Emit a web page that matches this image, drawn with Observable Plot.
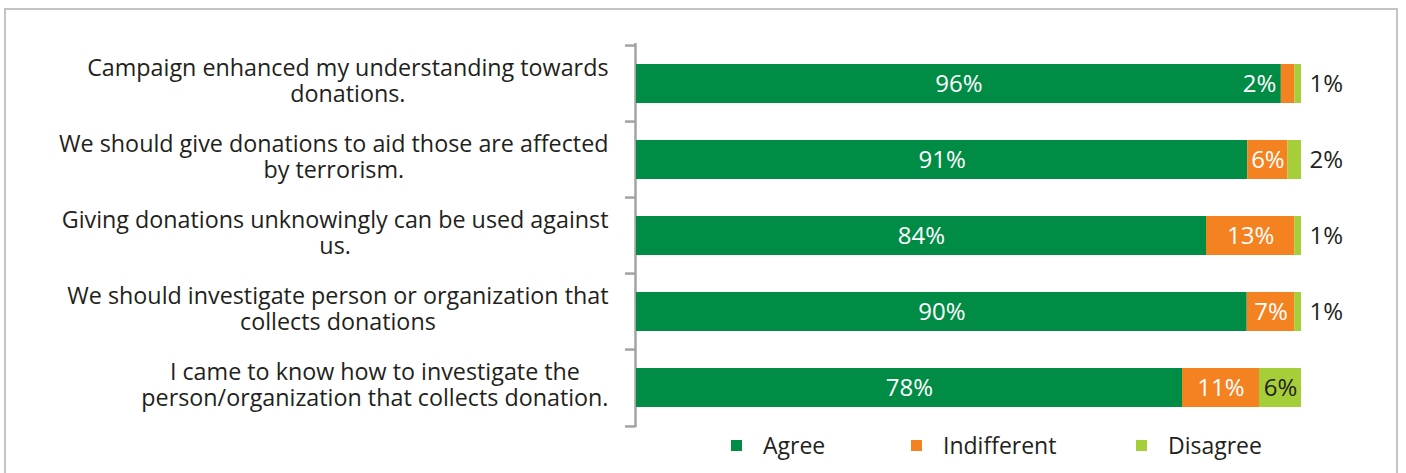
<!DOCTYPE html>
<html>
<head>
<meta charset="utf-8">
<script src="https://cdn.jsdelivr.net/npm/d3@7"></script>
<script src="https://cdn.jsdelivr.net/npm/@observablehq/plot@0.6"></script>
<style>
  body { margin: 0; background: #fff; font-family: "Open Sans", sans-serif; }
  #wrap { position: relative; width: 1406px; height: 473px; overflow: hidden; }
  #frame { position: absolute; left: 4px; top: 8px; width: 1394px; height: 490px;
           border: 2px solid #c3c3c3; box-sizing: border-box; pointer-events: none; }
  #chart { position: absolute; left: 0; top: 0; }
  #legend { position: absolute; left: 0; top: 431px; width: 1406px; height: 28px;
            font-size: 23px; color: #231f20; }
  .item { position: absolute; top: 0; height: 28px; display: flex; align-items: center; gap: 21px; }
  .swatch { width: 11px; height: 11px; }
</style>
</head>
<body>
<div id="wrap">
  <div id="chart"></div>
  <div id="legend"></div>
  <div id="frame"></div>
</div>
<script>
// Survey statements (line breaks as they are wrapped on the axis)
const statements = [
  "Campaign enhanced my understanding towards\ndonations.",
  "We should give donations to aid those are affected\nby terrorism.",
  "Giving donations unknowingly can be used against\nus.",
  "We should investigate person or organization that\ncollects donations",
  "I came to know how to investigate the\nperson/organization that collects donation."
];
const responses = ["Agree", "Indifferent", "Disagree"];
const agree = [96, 91, 84, 90, 78];
const indifferent = [2, 6, 13, 7, 11];
const disagree = [1, 2, 1, 1, 6];
const colors = ["#008c45", "#f58220", "#a6ce39"];

const series = [agree, indifferent, disagree];
const rows = statements.flatMap((s, i) =>
  responses.map((r, j) => ({statement: s, response: r, value: series[j][i]}))
);

// Layout
const W = 1406, H = 430, mL = 636, mR = 105, mT = 43, mB = 2.7;
const plotW = W - mL - mR;
const step = (H - mT - mB) / statements.length;
const ink = "#231f20";
const axisGray = "#a3a3a3";
const legendLeft = [731, 911, 1136];

// Label placement from the normalized stack: narrow segments get their label beside them
const labels = [];
statements.forEach((s, i) => {
  const total = series.reduce((t, v) => t + v[i], 0);
  let cum = 0;
  responses.forEach((r, j) => {
    const v = series[j][i];
    const x1 = cum / total, x2 = (cum + v) / total;
    cum += v;
    const narrow = (x2 - x1) * plotW < 30;
    let place;
    if (!narrow) place = r === "Disagree" ? "midDark" : "midLight";
    else place = r === "Disagree" ? "after" : "before";
    labels.push({statement: s, value: v, x1, x2, xm: (x1 + x2) / 2, place});
  });
});

const txt = {fontSize: 24, y: "statement", text: d => d.value + "%"};
const bracket = {x1: 0, x2: 0, insetLeft: -10, dx: -1, stroke: axisGray, strokeWidth: 2.5};

const chart = Plot.plot({
  width: W, height: H,
  marginLeft: mL, marginRight: mR, marginTop: mT, marginBottom: mB,
  style: {background: "transparent", fontFamily: "Open Sans", color: ink},
  x: {domain: [0, 1], axis: null},
  y: {domain: statements, paddingInner: 0.493, paddingOuter: 0.2465, axis: null},
  color: {domain: responses, range: colors},
  marks: [
    // category bracket: axis line with ticks at the band boundaries
    Plot.ruleX([0], {dx: -1, stroke: axisGray, strokeWidth: 2.5}),
    Plot.ruleY(statements, {...bracket, y: d => d, dy: -step / 2}),
    Plot.ruleY(statements.slice(-1), {...bracket, y: d => d, dy: step / 2}),
    Plot.barX(rows, Plot.stackX({offset: "normalize", order: responses, x: "value", y: "statement", fill: "response"})),
    Plot.text(labels.filter(d => d.place === "midLight"), {...txt, x: "xm", fill: "white"}),
    Plot.text(labels.filter(d => d.place === "midDark"), {...txt, x: "xm", fill: ink}),
    Plot.text(labels.filter(d => d.place === "before"), {...txt, x: "x1", textAnchor: "end", dx: -5, fill: "white"}),
    Plot.text(labels.filter(d => d.place === "after"), {...txt, x: "x2", textAnchor: "start", dx: 8, fill: ink}),
    Plot.text(statements, {x: 0, y: d => d, text: d => d, textAnchor: "end", dx: -28, dy: -3,
      lineHeight: 1.12, fontSize: 23.3, fill: ink})
  ]
});
document.getElementById("chart").append(chart);

// Center each wrapped statement's lines within its right-aligned block
d3.select(chart).selectAll("text")
  .filter(function () { return this.querySelectorAll("tspan").length > 1; })
  .each(function () {
    const spans = d3.select(this).selectAll("tspan");
    let maxW = 0;
    spans.each(function () { maxW = Math.max(maxW, this.getComputedTextLength()); });
    d3.select(this).attr("text-anchor", "middle");
    spans.attr("x", -maxW / 2);
  });

// Legend
const color = chart.scale("color");
const legend = d3.select("#legend");
responses.forEach((r, j) => {
  const item = legend.append("div").attr("class", "item").style("left", legendLeft[j] + "px");
  item.append("div").attr("class", "swatch").style("background", color.range[j]);
  item.append("span").text(r);
});
</script>
</body>
</html>
